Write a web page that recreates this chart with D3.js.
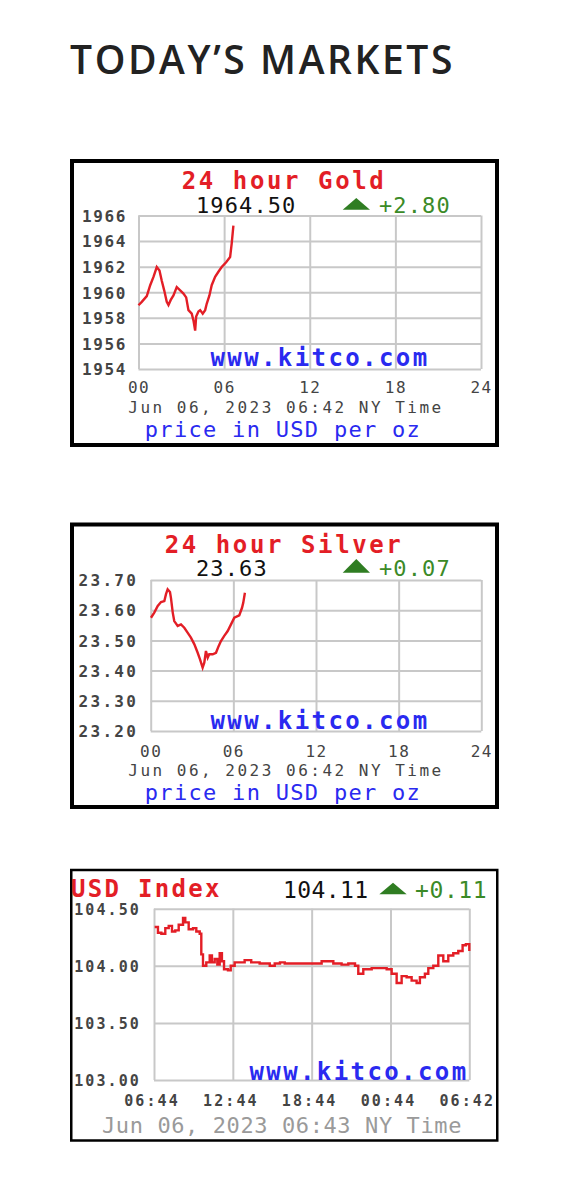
<!DOCTYPE html>
<html><head><meta charset="utf-8">
<script src="https://cdn.jsdelivr.net/npm/d3@7"></script>
<style>body{margin:0;background:#fff} svg{display:block}</style>
</head><body><svg id="c" width="561" height="1188"></svg>
<script>
// ---------- DATA ----------
const hourTicks = [0, 6, 12, 18, 24];
const hourLabels = ["00", "06", "12", "18", "24"];

const goldHours = [0,0.23,0.58,0.82,1.05,1.28,1.47,1.63,1.8,1.98,2.1,2.26,2.45,2.68,2.92,3.15,3.34,3.5,3.73,3.85,3.97,4.04,4.2,4.32,4.5,4.67,4.78,4.97,5.13,5.37,5.6,5.83,6.14,6.42,6.53,6.65];
const goldPrices = [1958.98,1959.25,1959.7,1960.55,1961.2,1961.97,1961.7,1960.9,1960.15,1959.25,1959.0,1959.4,1959.75,1960.4,1960.15,1959.9,1959.6,1958.6,1958.33,1957.8,1957.0,1958.1,1958.5,1958.6,1958.33,1958.6,1959.1,1959.75,1960.55,1961.2,1961.6,1961.97,1962.35,1962.75,1963.8,1965.2];
const goldTicks = [1954, 1956, 1958, 1960, 1962, 1964, 1966];

const silverHours = [0.02,0.26,0.51,0.75,0.99,1.11,1.23,1.40,1.47,1.60,1.71,1.96,2.20,2.44,2.69,2.92,3.17,3.41,3.58,3.77,3.89,4.01,4.14,4.25,4.50,4.74,4.93,5.10,5.34,5.59,5.83,6.07,6.43,6.63,6.72,6.84];
const silverPrices = [23.575,23.592,23.614,23.627,23.630,23.653,23.669,23.660,23.641,23.592,23.564,23.548,23.553,23.542,23.525,23.509,23.487,23.459,23.437,23.410,23.426,23.465,23.443,23.454,23.454,23.459,23.481,23.498,23.515,23.531,23.553,23.575,23.583,23.608,23.625,23.658];
const silverTicks = [23.2, 23.3, 23.4, 23.5, 23.6, 23.7];

const usdHours = [0.05,0.30,0.56,0.86,1.12,1.37,1.62,1.88,2.21,2.38,2.64,2.97,3.22,3.48,3.60,3.73,3.98,4.24,4.41,4.62,4.82,5.00,5.17,5.33,5.63,5.84,6.14,6.90,7.40,8.04,8.81,9.19,9.59,9.95,10.60,11.62,12.76,13.65,14.28,14.79,15.30,15.55,15.93,16.57,17.20,17.71,18.09,18.47,18.85,19.23,19.61,19.99,20.24,20.62,20.88,21.26,21.64,22.02,22.40,22.78,23.16,23.49,23.74,24.0];
const usdValues = [104.34,104.29,104.28,104.33,104.35,104.30,104.31,104.36,104.42,104.38,104.32,104.33,104.30,104.28,104.10,104.00,104.03,104.09,104.03,104.06,104.01,104.11,104.04,103.97,103.96,104.00,104.03,104.05,104.03,104.02,104.00,104.02,104.03,104.02,104.02,104.02,104.04,104.02,104.01,104.02,104.00,103.93,103.97,103.98,103.98,103.97,103.93,103.85,103.91,103.90,103.87,103.85,103.90,103.93,103.98,104.00,104.09,104.04,104.09,104.11,104.13,104.18,104.19,104.13];
const usdTicks = [103.0, 103.5, 104.0, 104.5];
const usdTimeLabels = ["06:44", "12:44", "18:44", "00:44", "06:42"];

// ---------- DRAW ----------
const MONO = "'DejaVu Sans Mono', 'Liberation Mono', monospace";
const RED = "#e31e26", GREEN = "#3b8a27", BLUE = "#2a2af0", GRID = "#c8c8c8";
const svg = d3.select('#c');
svg.append('rect').attr('width', 561).attr('height', 1188).attr('fill', '#fff');

svg.append('text').attr('x', 70).attr('y', 74)
  .attr('font-family', "'Open Sans', sans-serif").attr('font-weight', 600)
  .attr('font-size', 39).attr('letter-spacing', 2.6).attr('fill', '#222')
  .text("TODAY\u2019S MARKETS");

function txt(g, x, y, s, o) {
  return g.append('text').attr('x', x).attr('y', y).text(s)
    .attr('font-family', MONO)
    .attr('font-size', o.size).attr('font-weight', o.weight || 400)
    .attr('letter-spacing', o.ls || 0).attr('fill', o.fill)
    .attr('text-anchor', o.anchor || 'start');
}

function drawChart(o) {
  const g = svg.append('g');
  g.append('rect').attr('x', o.box[0]).attr('y', o.box[1]).attr('width', o.box[2]).attr('height', o.box[3])
    .attr('fill', '#fff').attr('stroke', '#000').attr('stroke-width', o.boxStroke);
  const x = d3.scaleLinear().domain([0, 24]).range([o.left, o.right]);
  const y = d3.scaleLinear().domain(o.yDomain).range([o.bottom, o.top]);

  const ya = g.append('g').attr('transform', `translate(${o.left},0)`)
    .call(d3.axisLeft(y).tickValues(o.yTicks).tickSize(-(o.right - o.left)).tickPadding(o.yPad).tickFormat(o.yFmt));
  ya.select('.domain').remove();
  ya.selectAll('line').attr('stroke', GRID).attr('stroke-width', 2);
  ya.selectAll('text').style('font-family', MONO).style('font-size', o.yLabelSize + 'px').style('font-weight', 'bold')
    .attr('letter-spacing', o.yLabelLs).attr('fill', '#444').attr('dy', '0.36em');

  const xa = g.append('g').attr('transform', `translate(0,${o.bottom})`)
    .call(d3.axisBottom(x).tickValues(hourTicks).tickSize(-(o.bottom - o.top)).tickFormat((d, i) => o.xLabels[i]));
  xa.select('.domain').remove();
  xa.selectAll('line').attr('stroke', GRID).attr('stroke-width', 2);
  xa.selectAll('text').style('font-family', MONO).style('font-size', o.xLabelSize + 'px').style('font-weight', o.xLabelWeight)
    .attr('letter-spacing', o.xLabelLs).attr('fill', '#444').attr('y', o.xLabelBase - o.bottom).attr('dy', 0).attr('dx', o.xLabelDx);

  txt(g, o.www[0], o.www[1], "www.kitco.com", {size: 24, weight: 'bold', ls: 2.4, fill: BLUE, anchor: 'middle'});

  const idx = d3.range(o.hours.length);
  g.append('path').datum(idx)
    .attr('d', d3.line().x(i => x(o.hours[i])).y(i => y(o.vals[i])).curve(o.curve))
    .attr('fill', 'none').attr('stroke', RED).attr('stroke-width', 2.4).attr('stroke-linejoin', 'miter');

  return g;
}

// Gold
const gG = drawChart({box: [72, 161, 425, 284], boxStroke: 4, left: 138.5, right: 481, top: 215.5, bottom: 369,
  yDomain: [1954, 1966], yTicks: goldTicks, yFmt: d3.format('d'), yPad: 11.5, yLabelSize: 16, yLabelLs: 1.6,
  xLabels: hourLabels, xLabelBase: 393, xLabelSize: 16, xLabelLs: 1.5, xLabelWeight: 'normal', xLabelDx: 0,
  www: [320, 366], hours: goldHours, vals: goldPrices, curve: d3.curveLinear});
txt(gG, 284, 189, "24 hour Gold", {size: 24, weight: 'bold', ls: 2.6, fill: RED, anchor: 'middle'});
txt(gG, 196, 212.5, "1964.50", {size: 22, ls: 1.1, fill: '#111'});
gG.append('path').attr('d', 'M342.7,209.7L370,209.7L356.3,198Z').attr('fill', '#2f7d22');
txt(gG, 379, 212.5, "+2.80", {size: 22, ls: 1.1, fill: GREEN});
txt(gG, 286, 413, "Jun 06, 2023 06:42 NY Time", {size: 16, ls: 2.5, fill: '#444', anchor: 'middle'});
txt(gG, 283, 437, "price in USD per oz", {size: 22, ls: 1.3, fill: BLUE, anchor: 'middle'});

// Silver
const gS = drawChart({box: [72, 524.5, 425, 282.5], boxStroke: 4, left: 150.7, right: 481.3, top: 580, bottom: 731,
  yDomain: [23.2, 23.7], yTicks: silverTicks, yFmt: d3.format('.2f'), yPad: 12.5, yLabelSize: 16, yLabelLs: 2.3,
  xLabels: hourLabels, xLabelBase: 757, xLabelSize: 16, xLabelLs: 1.5, xLabelWeight: 'normal', xLabelDx: 0,
  www: [320, 729], hours: silverHours, vals: silverPrices, curve: d3.curveLinear});
txt(gS, 284, 552.5, "24 hour Silver", {size: 24, weight: 'bold', ls: 2.6, fill: RED, anchor: 'middle'});
txt(gS, 196, 576, "23.63", {size: 22, ls: 1.1, fill: '#111'});
gS.append('path').attr('d', 'M342.7,572.7L370,572.7L356.3,559Z').attr('fill', '#2f7d22');
txt(gS, 379, 576, "+0.07", {size: 22, ls: 1.1, fill: GREEN});
txt(gS, 286, 776, "Jun 06, 2023 06:42 NY Time", {size: 16, ls: 2.5, fill: '#444', anchor: 'middle'});
txt(gS, 283, 800, "price in USD per oz", {size: 22, ls: 1.3, fill: BLUE, anchor: 'middle'});

// USD Index
const gU = drawChart({box: [71.25, 870, 426, 270.5], boxStroke: 2.5, left: 154, right: 469.3, top: 908.7, bottom: 1080,
  yDomain: [103, 104.5], yTicks: usdTicks, yFmt: d3.format('.2f'), yPad: 13, yLabelSize: 15, yLabelLs: 2.1,
  xLabels: usdTimeLabels, xLabelBase: 1106, xLabelSize: 15, xLabelLs: 2.1, xLabelWeight: 'bold', xLabelDx: -2.5,
  www: [359, 1080], hours: usdHours, vals: usdValues, curve: d3.curveStepAfter});
txt(gU, 71, 896.5, "USD Index", {size: 24, weight: 'bold', ls: 2.3, fill: RED});
txt(gU, 283, 897.5, "104.11", {size: 23, ls: 0.4, fill: '#111'});
gU.append('path').attr('d', 'M379.3,894.3L406.7,894.3L393,882.7Z').attr('fill', '#2f7d22');
txt(gU, 415, 897.5, "+0.11", {size: 23, ls: 0.6, fill: GREEN});
txt(gU, 282, 1133, "Jun 06, 2023 06:43 NY Time", {size: 22, ls: 0.6, fill: '#9a9a9a', anchor: 'middle'});
</script></body></html>
